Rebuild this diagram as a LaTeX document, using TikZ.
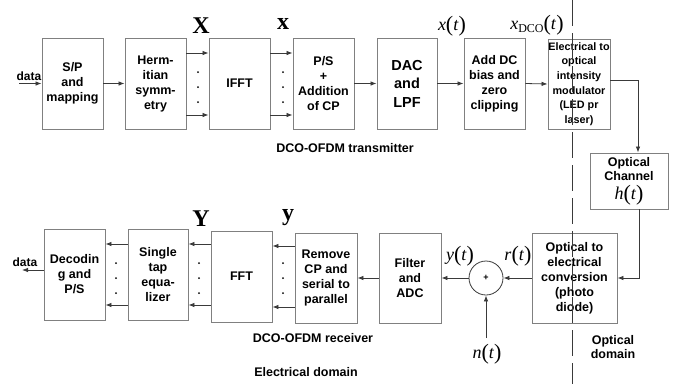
\documentclass[tikz,border=0pt]{standalone}
\usepackage{fontspec}
\setmainfont{Liberation Sans}
\newfontfamily\tms{Liberation Serif}
\usetikzlibrary{arrows.meta,calc}
\definecolor{boxc}{HTML}{808080}
\definecolor{linec}{HTML}{3A3A3A}
\newcommand\bpar[1]{{\fontsize{22}{22}\selectfont\raisebox{-1pt}{#1}}}
\newcommand\fnl[2]{{\tms\fontsize{18}{18}\selectfont\textit{#1}\bpar{(}\textit{#2}\bpar{)}}}
\begin{document}
\begin{tikzpicture}[x=1pt,y=-1pt,
  blk/.style={draw=boxc,line width=0.9pt,minimum width=61pt,minimum height=91pt,inner sep=0pt,align=center,font=\bfseries\fontsize{12.5}{15}\selectfont,text=black},
  arr/.style={draw=linec,line width=0.8pt,-{Latex[length=6pt,width=4.5pt]}},
  lbl/.style={font=\bfseries\fontsize{12.5}{15}\selectfont,align=center,inner sep=0pt},
  big/.style={font=\tms\bfseries\fontsize{24}{24}\selectfont,inner sep=0pt},
  mth/.style={inner sep=0pt}]
\useasboundingbox (0,0) rectangle (679,384);
\fill[white] (0,0) rectangle (679,384);
% top row
\node[blk] (sp) at (72.5,83.5) {S/P\\and\\mapping};
\node[blk] (herm) at (155.5,83.5) {Herm-\\itian\\symm-\\etry};
\node[blk] (ifft) at (239.5,83.5) {IFFT};
\node[blk] (ps) at (323.5,83.5) {P/S\\+\\Addition\\of CP};
\node[blk,minimum width=60pt,font=\bfseries\fontsize{14.5}{18.5}\selectfont] (dac) at (407,83.5) {DAC\\and\\LPF};
\node[blk] (adc) at (494.5,83.5) {Add DC\\bias and\\zero\\clipping};
\node[blk,minimum width=62pt,minimum height=90pt,font=\bfseries\fontsize{10.8}{14.6}\selectfont] (eo) at (579,84) {Electrical to\\optical\\intensity\\modulator\\(LED pr\\laser)};
\node[blk,minimum width=78pt,minimum height=56pt] (och) at (629,181) {};
\node[lbl,anchor=north,font=\bfseries\fontsize{12.5}{14}\selectfont] (ochl) at (629,157) {Optical\\Channel};
\node[mth] (ht) at (629,195) {\fnl{h}{t}};
% bottom row
\node[blk] (dec) at (74.5,274.5) {Decodin\\g and\\P/S};
\node[blk,minimum width=60pt] (stap) at (158,274.5) {Single\\tap\\equa-\\lizer};
\node[blk] (fft) at (241.5,276.5) {FFT};
\node[blk,minimum width=62pt,minimum height=90pt] (rcp) at (326,278) {Remove\\CP and\\serial to\\parallel};
\node[blk,minimum width=62pt,minimum height=90pt] (fil) at (410,278) {Filter\\and\\ADC};
\node[draw=linec,line width=0.8pt,circle,minimum size=34pt,inner sep=0pt,font=\bfseries\small] (sum) at (486,278) {+};
\node[blk,minimum width=85pt,minimum height=90pt] (oe) at (574.5,278) {Optical to\\electrical\\conversion\\(photo\\diode)};
% dashed domain line
\coordinate (dtop) at (572,0);
\coordinate (dbot) at (572,384);
\draw[linec,line width=0.8pt,dash pattern=on 26pt off 7pt] (dtop) -- (dbot);
% coordinates
\coordinate (din) at (19,83.5);
\coordinate (dout) at (22,270);
\coordinate (nsrc) at (486,338);
% top connectors
\draw[arr] (din) -- (sp.west);
\draw[arr] (sp.east) -- (herm.west);
\draw[arr] ([yshift=30.5pt]herm.east) -- ([yshift=30.5pt]ifft.west);
\draw[arr] ([yshift=-31.5pt]herm.east) -- ([yshift=-31.5pt]ifft.west);
\draw[arr] ([yshift=30.5pt]ifft.east) -- ([yshift=30.5pt]ps.west);
\draw[arr] ([yshift=-31.5pt]ifft.east) -- ([yshift=-31.5pt]ps.west);
\draw[arr] (ps.east) -- (dac.west);
\draw[arr] (dac.east) -- (adc.west);
\draw[arr] (adc.east) -- (eo.west);
\draw[arr] ([yshift=4pt]eo.east) -| ([xshift=9pt]och.north);
\draw[arr] ([xshift=10pt]och.south) |- (oe.east);
% bottom connectors
\draw[arr] (oe.west) -- (sum.east);
\draw[arr] (nsrc) -- (sum.south);
\draw[arr] (sum.west) -- (fil.east);
\draw[arr] (fil.west) -- (rcp.east);
\draw[arr] ([yshift=32pt]rcp.west) -- ([yshift=30.5pt]fft.east);
\draw[arr] ([yshift=-29pt]rcp.west) -- ([yshift=-30.5pt]fft.east);
\draw[arr] ([yshift=32.5pt]fft.west) -- ([yshift=30.5pt]stap.east);
\draw[arr] ([yshift=-28.5pt]fft.west) -- ([yshift=-30.5pt]stap.east);
\draw[arr] ([yshift=30.5pt]stap.west) -- ([yshift=30.5pt]dec.east);
\draw[arr] ([yshift=-30.5pt]stap.west) -- ([yshift=-30.5pt]dec.east);
\draw[arr] ([yshift=4.5pt]dec.west) -- (dout);
% dots
\foreach \x/\y in {198/72,198/87,198/102,283/72,283/87,283/102,
                   283/263,283/278,283/293,199/263,199/278,199/293,116/263,116/278,116/293}
  \fill[black] (\x,\y) circle (1pt);
% labels
\node[lbl,font=\bfseries\fontsize{12}{13}\selectfont] (ldin) at (29,76) {data};
\node[lbl,font=\bfseries\fontsize{12}{13}\selectfont] (ldout) at (25,262) {data};
\node[big] (lX) at (201,26) {X};
\node[big] (lx) at (283,24) {x};
\node[mth] (lxt) at (452,26) {\fnl{x}{t}};
\node[mth] (lxd) at (537,25) {{\tms\fontsize{18}{18}\selectfont\textit{x}\raisebox{-3pt}{\fontsize{12}{12}\selectfont DCO}\bpar{(}\textit{t}\bpar{)}}};
\node[big] (lY) at (201,219) {Y};
\node[big] (ly) at (288,218) {y};
\node[mth] (lyt) at (460,256) {\fnl{y}{t}};
\node[mth] (lrt) at (518,256) {\fnl{r}{t}};
\node[mth] (lnt) at (487,354) {\fnl{n}{t}};
\node[lbl] (ltx) at (345,148) {DCO-OFDM transmitter};
\node[lbl] (lrx) at (313,338) {DCO-OFDM receiver};
\node[lbl] (led) at (306,372) {Electrical domain};
\node[lbl,font=\bfseries\fontsize{12.5}{14}\selectfont] (lod) at (613,347) {Optical\\domain};
\end{tikzpicture}
\end{document}
